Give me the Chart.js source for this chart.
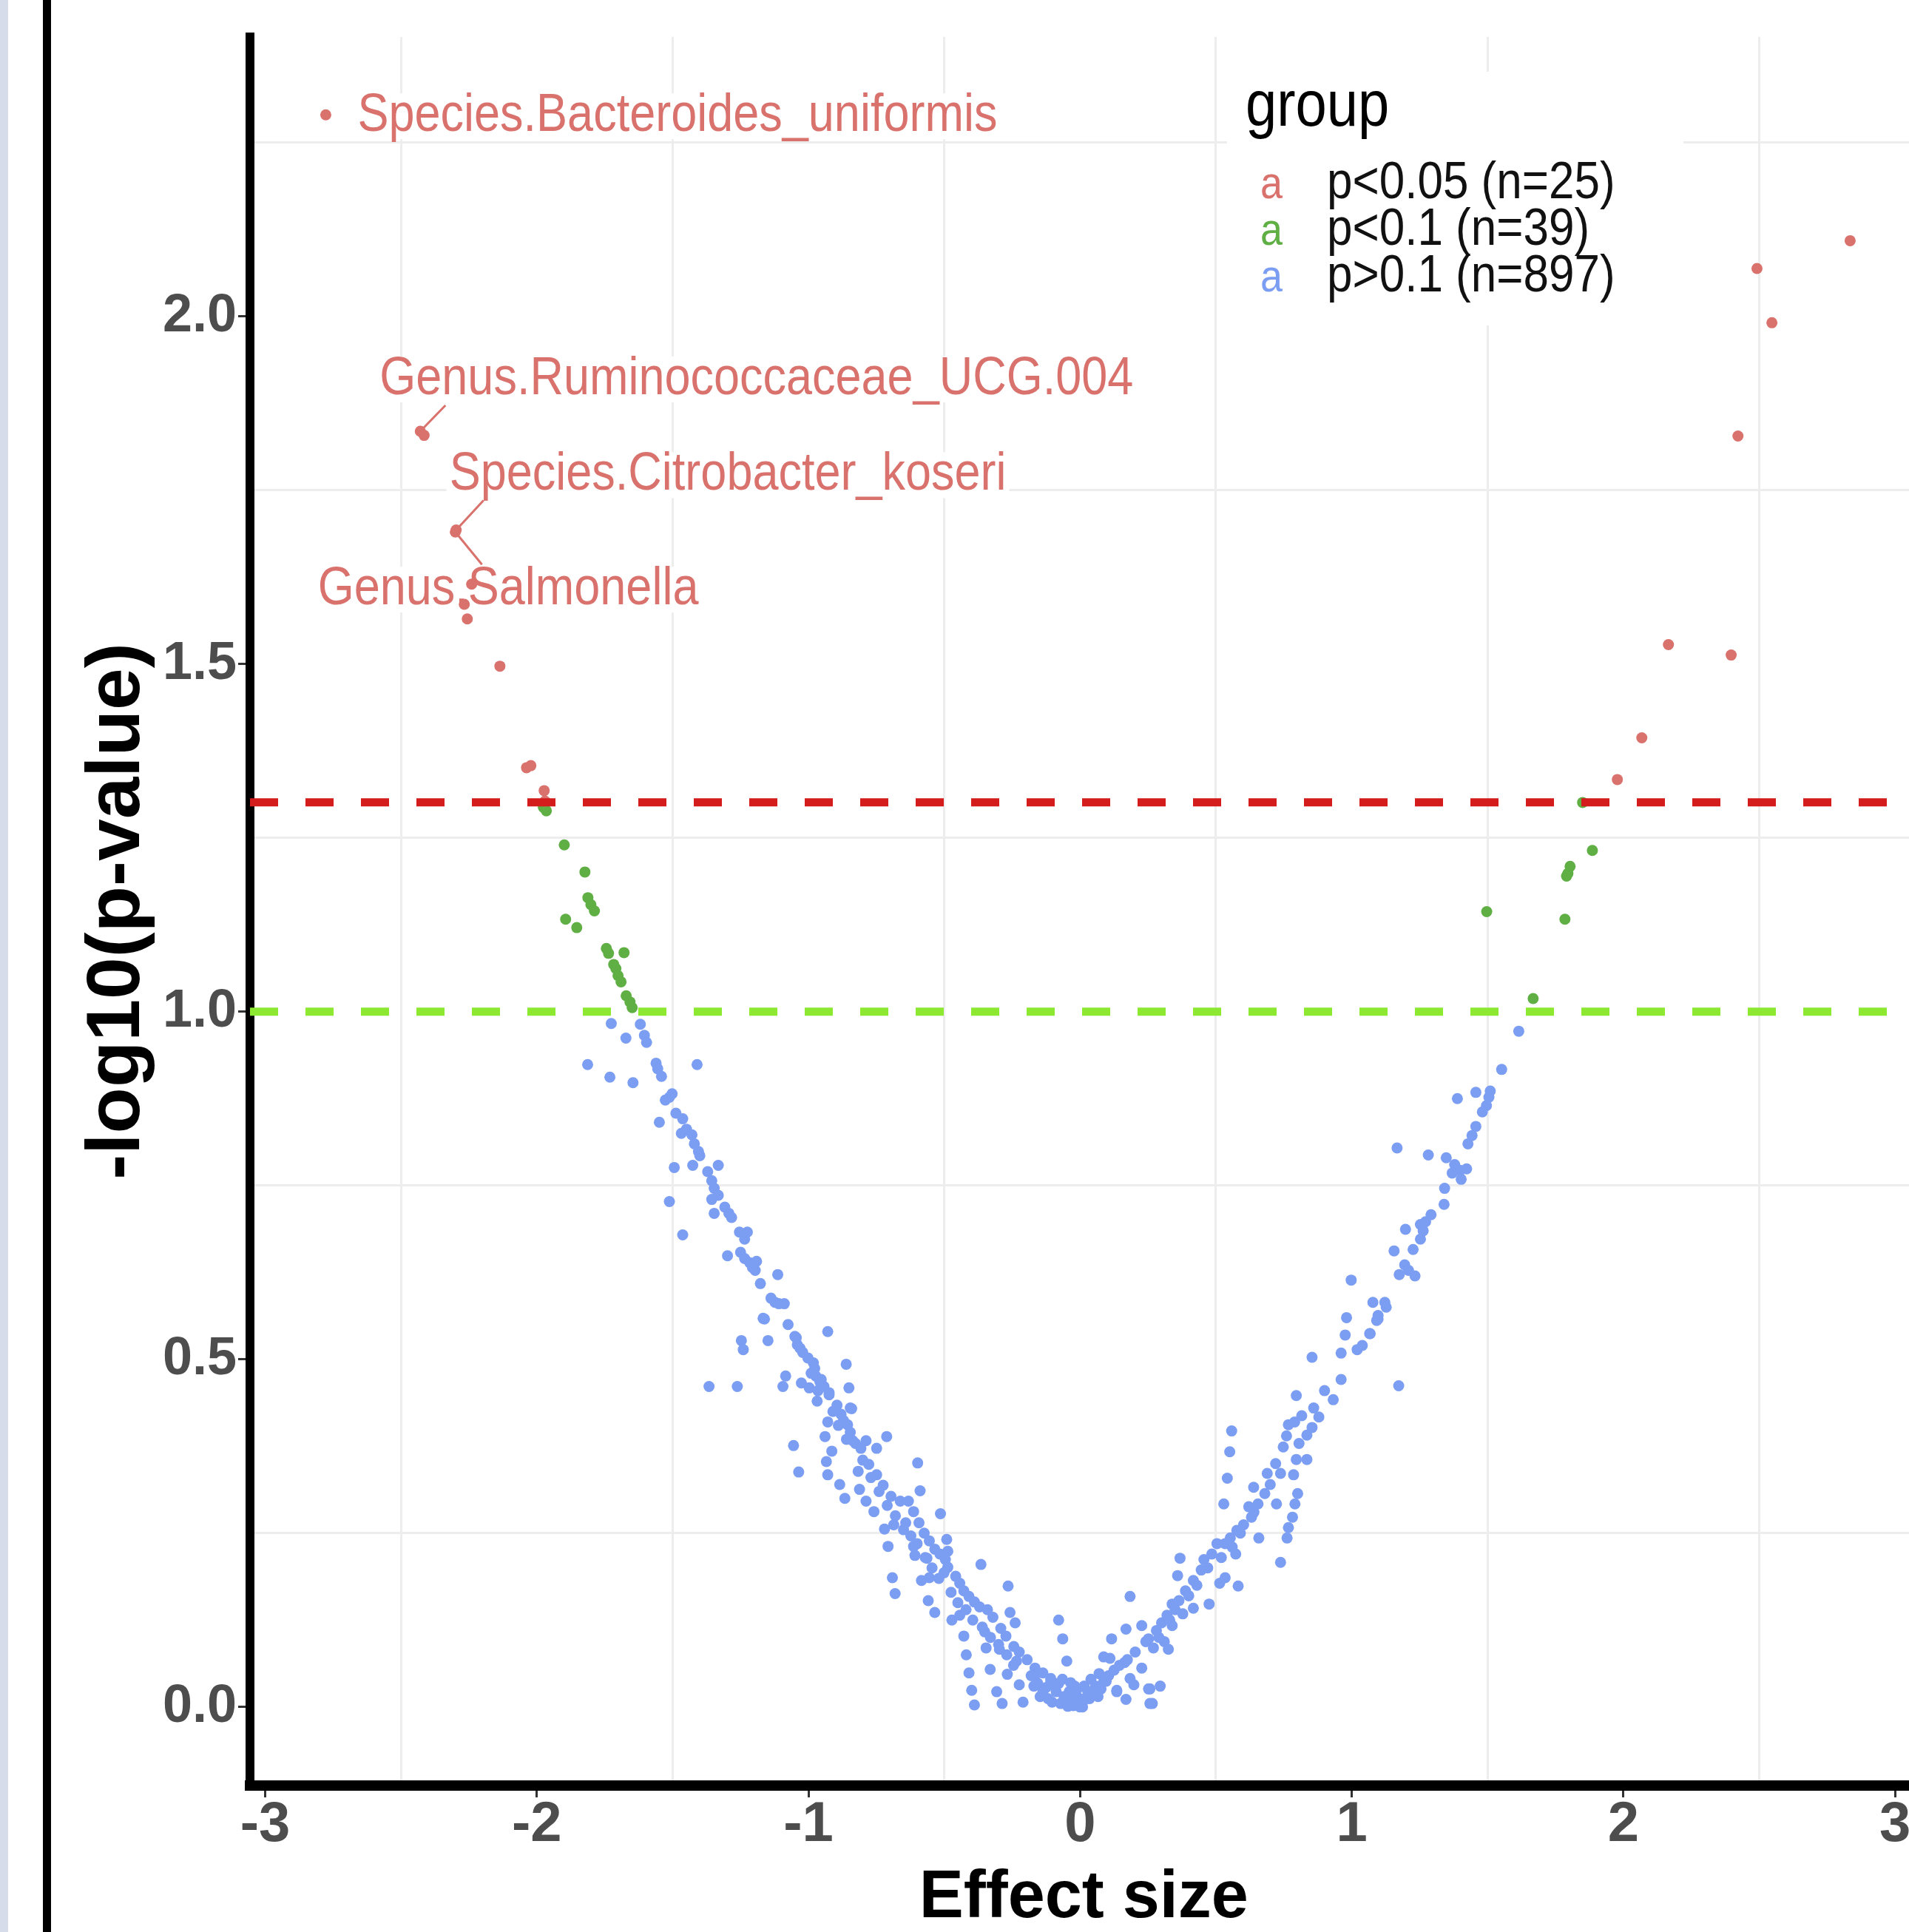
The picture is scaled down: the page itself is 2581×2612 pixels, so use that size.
<!DOCTYPE html>
<html>
<head>
<meta charset="utf-8">
<title>Effect size volcano</title>
<script src="https://cdn.jsdelivr.net/npm/chart.js@4.4.1/dist/chart.umd.min.js"></script>
<style>
  html, body { margin: 0; padding: 0; background: #fff; overflow: hidden; }
  #frame { width: 2581px; height: 2612px; overflow: hidden; position: relative; }
  #wrap { width: 2600px; height: 2612px; position: absolute; left: 0; top: 0; }
</style>
</head>
<body>
<div id="frame"><div id="wrap"><canvas id="volcano"></canvas></div></div>
<script>
// groups as in the legend
const groupLabels = ['p<0.05 (n=25)', 'p<0.1 (n=39)', 'p>0.1 (n=897)'];
const groupColors = ['#d9716c', '#5faf45', '#7b9df2'];

// [effect size, -log10(p)]
const redPoints = [
  [-2.777, 2.290], [-2.429, 1.835], [-2.415, 1.829], [-2.297, 1.693], [-2.300, 1.690],
  [-2.240, 1.615], [-2.267, 1.586], [-2.256, 1.565], [-2.136, 1.497], [-2.038, 1.351],
  [-2.022, 1.354], [-1.973, 1.318], [-1.970, 1.303],
  [2.835, 2.109], [2.492, 2.069], [2.547, 1.991], [2.422, 1.828], [2.166, 1.528],
  [2.397, 1.513], [2.068, 1.394], [1.978, 1.334]
];

const greenPoints = [
  [-1.967, 1.301], [-1.965, 1.289], [-1.976, 1.294], [-1.899, 1.240], [-1.823, 1.201],
  [-1.812, 1.164], [-1.801, 1.154], [-1.788, 1.145], [-1.894, 1.133], [-1.853, 1.121],
  [-1.744, 1.091], [-1.736, 1.084], [-1.679, 1.085], [-1.717, 1.068], [-1.709, 1.062],
  [-1.701, 1.052], [-1.690, 1.043], [-1.671, 1.023], [-1.657, 1.014], [-1.649, 1.006],
  [1.850, 1.301], [1.886, 1.232], [1.804, 1.209], [1.796, 1.199], [1.791, 1.195],
  [1.497, 1.144], [1.785, 1.133], [1.668, 1.019]
];

const bluePoints = [
  // left wing, upper part
  [-1.726, 0.983], [-1.619, 0.982], [-1.672, 0.962], [-1.604, 0.966], [-1.596, 0.956],
  [-1.813, 0.924], [-1.731, 0.906], [-1.646, 0.898], [-1.561, 0.926], [-1.555, 0.918],
  [-1.541, 0.907], [-1.410, 0.924], [-1.502, 0.882], [-1.527, 0.873], [-1.512, 0.877],
  [-1.549, 0.841], [-1.488, 0.854], [-1.463, 0.846], [-1.449, 0.831], [-1.468, 0.825],
  [-1.429, 0.823], [-1.420, 0.810], [-1.405, 0.799], [-1.400, 0.793], [-1.494, 0.776],
  [-1.426, 0.779], [-1.332, 0.779], [-1.371, 0.770], [-1.356, 0.757], [-1.347, 0.746],
  [-1.332, 0.736], [-1.356, 0.730], [-1.347, 0.710], [-1.512, 0.727], [-1.308, 0.719],
  [-1.293, 0.710], [-1.283, 0.704], [-1.463, 0.679], [-1.254, 0.683], [-1.225, 0.683],
  [-1.235, 0.673], [-1.298, 0.649], [-1.250, 0.654], [-1.235, 0.645], [-1.216, 0.639],
  [-1.191, 0.641], [-1.196, 0.628], [-1.206, 0.632], [-1.113, 0.622], [-1.177, 0.609],
  [-1.138, 0.588], [-1.109, 0.580], [-1.089, 0.580], [-1.123, 0.582], [-1.167, 0.559],
  [-1.075, 0.550], [-0.929, 0.540], [-1.247, 0.527], [-1.240, 0.514], [-1.149, 0.527],
  [-1.050, 0.533], [-1.041, 0.521], [-1.021, 0.510], [-1.002, 0.502], [-0.982, 0.495],
  [-0.977, 0.487], [-0.861, 0.493], [-0.973, 0.476], [-0.958, 0.468], [-0.943, 0.461],
  [-0.924, 0.449], [-0.895, 0.434], [-0.846, 0.430], [-1.084, 0.476], [-1.094, 0.461],
  [-1.026, 0.466], [-0.997, 0.459], [-0.851, 0.459], [-1.366, 0.461], [-1.262, 0.461],
  [-0.968, 0.440], [-1.162, 0.558], [-1.045, 0.531], [-1.031, 0.516],
  // left wing, lower part
  [-0.953, 0.471], [-0.924, 0.452], [-0.841, 0.429], [-0.880, 0.421], [-0.871, 0.412],
  [-0.856, 0.406], [-0.846, 0.395], [-0.837, 0.383], [-0.929, 0.410], [-0.939, 0.389],
  [-1.055, 0.376], [-1.036, 0.338], [-0.914, 0.368], [-0.934, 0.353], [-0.929, 0.334],
  [-0.885, 0.320], [-0.866, 0.300], [-0.827, 0.379], [-0.807, 0.372], [-0.788, 0.383],
  [-0.749, 0.372], [-0.817, 0.339], [-0.712, 0.389], [-0.598, 0.351], [-0.589, 0.311],
  [-0.778, 0.349], [-0.749, 0.334], [-0.725, 0.319], [-0.696, 0.303], [-0.662, 0.296],
  [-0.632, 0.296], [-0.613, 0.281], [-0.593, 0.265], [-0.812, 0.313], [-0.788, 0.296],
  [-0.759, 0.281], [-0.514, 0.278], [-0.720, 0.256], [-0.686, 0.262], [-0.642, 0.265],
  [-0.623, 0.246], [-0.613, 0.231], [-0.608, 0.218], [-0.574, 0.250], [-0.555, 0.239],
  [-0.535, 0.227], [-0.516, 0.220], [-0.496, 0.212], [-0.487, 0.201], [-0.491, 0.241],
  [-0.487, 0.224], [-0.501, 0.193], [-0.707, 0.231], [-0.691, 0.186], [-0.681, 0.163],
  [-0.564, 0.214], [-0.555, 0.186], [-0.584, 0.182], [-0.559, 0.153], [-0.535, 0.136],
  [-0.458, 0.188], [-0.443, 0.178], [-0.428, 0.167], [-0.409, 0.159], [-0.389, 0.151],
  [-0.370, 0.144], [-0.341, 0.140], [-0.321, 0.129], [-0.292, 0.113], [-0.273, 0.102],
  [-0.244, 0.087], [-0.224, 0.079], [-0.195, 0.068], [-0.166, 0.056], [-0.137, 0.049],
  [-0.108, 0.041], [-0.079, 0.034], [-0.040, 0.022], [-0.011, 0.015], [-0.365, 0.205],
  [-0.265, 0.174], [-0.472, 0.125], [-0.443, 0.132], [-0.428, 0.102], [-0.419, 0.075],
  [-0.409, 0.049], [-0.399, 0.024], [-0.389, 0.003], [-0.351, 0.108], [-0.346, 0.085],
  [-0.331, 0.054], [-0.307, 0.022], [-0.287, 0.005], [-0.258, 0.136], [-0.239, 0.121],
  [-0.297, 0.083], [-0.268, 0.047], [-0.234, 0.066], [-0.224, 0.032], [-0.210, 0.007],
  [-0.156, 0.034], [-0.147, 0.015], [-0.103, 0.007], [-0.079, 0.125], [-0.064, 0.098],
  [-0.049, 0.066], [-0.045, 0.001], [-0.020, 0.030], [-0.001, 0.000], [-0.137, 0.022],
  [-0.088, 0.022], [-0.059, 0.015], [-0.030, 0.007], [-0.156, 0.049], [-0.108, 0.037],
  // left ridge, second strand
  [-0.990, 0.480], [-0.965, 0.455], [-0.910, 0.425], [-0.890, 0.405], [-0.860, 0.385],
  [-0.800, 0.355], [-0.770, 0.330], [-0.740, 0.310], [-0.710, 0.290], [-0.680, 0.275],
  [-0.650, 0.255], [-0.600, 0.235], [-0.570, 0.215], [-0.545, 0.200], [-0.520, 0.185],
  [-0.475, 0.165], [-0.450, 0.150], [-0.420, 0.140], [-0.395, 0.125], [-0.360, 0.115],
  [-0.330, 0.100], [-0.300, 0.090], [-0.270, 0.075], [-0.245, 0.060],
  // dense bottom around zero
  [-0.180, 0.045], [-0.170, 0.030], [-0.125, 0.028], [-0.118, 0.012], [-0.095, 0.030],
  [-0.072, 0.005], [-0.065, 0.040], [-0.050, 0.012], [-0.035, 0.035], [-0.025, 0.002],
  [-0.012, 0.025], [0.000, 0.008], [0.015, 0.030], [0.035, 0.012], [0.040, 0.040],
  [0.066, 0.015], [0.070, 0.048], [0.105, 0.045], [0.110, 0.070],
  // bottom, right of zero
  [0.028, 0.022], [0.057, 0.030], [0.087, 0.072], [0.116, 0.098], [0.135, 0.024],
  [0.169, 0.011], [0.184, 0.159], [0.169, 0.112], [0.227, 0.117], [0.227, 0.056],
  [0.198, 0.032], [0.257, 0.026], [0.257, 0.005], [0.009, 0.011], [0.048, 0.022],
  [0.087, 0.037], [0.125, 0.053], [0.164, 0.064], [0.203, 0.079], [0.242, 0.094],
  [0.009, 0.000], [0.019, 0.011], [0.077, 0.026], [0.096, 0.037], [0.145, 0.060],
  [0.174, 0.068], [0.184, 0.041], [0.135, 0.022], [0.252, 0.026], [0.295, 0.030],
  [0.266, 0.005],
  // right wing, lower part
  [0.252, 0.098], [0.281, 0.110], [0.300, 0.121], [0.320, 0.132], [0.339, 0.148],
  [0.364, 0.153], [0.388, 0.167], [0.417, 0.182], [0.446, 0.197], [0.456, 0.212],
  [0.485, 0.220], [0.504, 0.235], [0.534, 0.235], [0.553, 0.243], [0.577, 0.254],
  [0.602, 0.262], [0.631, 0.273], [0.621, 0.288], [0.655, 0.292], [0.680, 0.307],
  [0.582, 0.174], [0.475, 0.148], [0.514, 0.178], [0.534, 0.186], [0.368, 0.214],
  [0.359, 0.189], [0.573, 0.220], [0.417, 0.142], [0.378, 0.134], [0.339, 0.117],
  [0.310, 0.094], [0.325, 0.083], [0.558, 0.397], [0.551, 0.367], [0.542, 0.329],
  [0.529, 0.292], [0.689, 0.336], [0.738, 0.336], [0.639, 0.316], [0.723, 0.292],
  [0.658, 0.243], [0.801, 0.307], [0.791, 0.292], [0.782, 0.273], [0.767, 0.258],
  [0.762, 0.243], [0.738, 0.208], [0.796, 0.448], [0.816, 0.419], [0.767, 0.406],
  [0.748, 0.374], [0.879, 0.417], [0.854, 0.402], [0.835, 0.391], [0.806, 0.379],
  [0.796, 0.356], [0.786, 0.334], [0.835, 0.356], [0.932, 0.442], [0.961, 0.471],
  [0.961, 0.509], [0.976, 0.535], [0.981, 0.560], [0.854, 0.503], [1.173, 0.462],
  [1.020, 0.514], [1.039, 0.520], [1.068, 0.537], [1.097, 0.558],
  // right ridge, second strand
  [0.270, 0.085], [0.290, 0.100], [0.330, 0.125], [0.350, 0.140], [0.400, 0.160],
  [0.430, 0.175], [0.470, 0.200], [0.520, 0.215], [0.560, 0.230], [0.590, 0.250],
  [0.640, 0.280], [0.700, 0.320], [0.720, 0.350], [0.760, 0.390], [0.790, 0.410],
  [0.860, 0.430], [0.900, 0.455],
  // right wing, upper part
  [0.998, 0.614], [1.078, 0.582], [1.122, 0.582], [1.127, 0.575], [1.097, 0.563],
  [1.092, 0.556], [1.066, 0.537], [1.195, 0.636], [1.175, 0.622], [1.233, 0.620],
  [1.209, 0.628], [1.292, 0.708], [1.272, 0.698], [1.253, 0.694], [1.263, 0.685],
  [1.253, 0.673], [1.198, 0.687], [1.226, 0.658], [1.156, 0.656], [1.342, 0.746],
  [1.340, 0.723], [1.167, 0.804], [1.282, 0.794], [1.348, 0.790], [1.379, 0.780],
  [1.399, 0.772], [1.423, 0.774], [1.370, 0.768], [1.403, 0.759], [1.457, 0.835],
  [1.443, 0.822], [1.428, 0.810], [1.389, 0.875], [1.457, 0.884], [1.510, 0.886],
  [1.505, 0.877], [1.496, 0.865], [1.481, 0.856], [1.552, 0.917], [1.615, 0.972]
];

// dashed cut-offs: -log10(0.05) and -log10(0.1)
const cutoffs = [1.30103, 1.0];
const cutoffColors = ['#d41c1c', '#8ce830'];

// axis ticks (minor positions carry only the grid)
const xTicks = [-3, -2.5, -2, -1.5, -1, -0.5, 0, 0.5, 1, 1.5, 2, 2.5, 3];
const yTicks = [0, 0.25, 0.5, 0.75, 1, 1.25, 1.5, 1.75, 2, 2.25];
const xMin = -3.056, xMax = 3.083;
const yMin = -0.113, yMax = 2.402;

// labelled features: index in redPoints, text offset and leader end (px)
const featureLabels = [
  { point: 0, text: 'Species.Bacteroides_uniformis', dx: 43, dy: 2 },
  { point: 1, text: 'Genus.Ruminococcaceae_UCG.004', dx: -55, dy: -70, lx: 34, ly: -35 },
  { point: 3, text: 'Species.Citrobacter_koseri', dx: -9, dy: -74, lx: 37, ly: -40 },
  { point: 4, text: 'Genus.Salmonella', dx: -186, dy: 78, lx: 36, ly: 44 }
];

const FONT = '"Liberation Sans", Arial, Helvetica, sans-serif';
const STRETCH = 1.14; // the original picture is a little taller than wide

function isWhole(v, step) {
  return Math.abs(v / step - Math.round(v / step)) < 1e-9;
}

function toXY(points) {
  return points.map(p => ({ x: p[0], y: p[1] }));
}

function tallText(ctx, text, x, y) {
  ctx.save();
  ctx.translate(x, y);
  ctx.scale(1, STRETCH);
  ctx.fillText(text, 0, 0);
  ctx.restore();
}

// white page, plus the window edge seen on the left of the screenshot
const backdrop = {
  id: 'backdrop',
  beforeDraw(chart) {
    const { ctx, width, height } = chart;
    ctx.save();
    ctx.fillStyle = '#ffffff';
    ctx.fillRect(0, 0, width, height);
    ctx.fillStyle = '#d6dcea';
    ctx.fillRect(0, 0, 11, height);
    ctx.fillStyle = '#000000';
    ctx.fillRect(58, 0, 11, height);
    ctx.restore();
  }
};

// ggrepel-like labels with white boxes and leader segments
const repelLabels = {
  id: 'repelLabels',
  beforeDatasetsDraw(chart) {
    const { ctx, scales: { x, y } } = chart;
    ctx.save();
    ctx.font = '63px ' + FONT;
    ctx.textBaseline = 'middle';
    const placed = featureLabels.map(l => {
      const p = redPoints[l.point];
      const px = x.getPixelForValue(p[0]);
      const py = y.getPixelForValue(p[1]);
      return { l, px, py, tx: px + l.dx, ty: py + l.dy, w: ctx.measureText(l.text).width };
    });
    ctx.fillStyle = '#ffffff';
    placed.forEach(o => ctx.fillRect(o.tx - 4, o.ty - 31, o.w + 8, 62));
    ctx.strokeStyle = groupColors[0];
    ctx.lineWidth = 3;
    placed.forEach(o => {
      if (o.l.lx === undefined) return;
      ctx.beginPath();
      ctx.moveTo(o.px, o.py);
      ctx.lineTo(o.px + o.l.lx, o.py + o.l.ly);
      ctx.stroke();
    });
    ctx.fillStyle = groupColors[0];
    placed.forEach(o => tallText(ctx, o.l.text, o.tx, o.ty));
    ctx.restore();
  }
};

// legend in the top right corner, with the "a" key glyphs of ggplot text layers
const groupLegend = {
  id: 'groupLegend',
  beforeDatasetsDraw(chart) {
    const { ctx } = chart;
    ctx.save();
    ctx.fillStyle = '#ffffff';
    ctx.fillRect(1659, 97, 617, 343);
    ctx.textBaseline = 'alphabetic';
    ctx.fillStyle = '#000000';
    ctx.font = '76px ' + FONT;
    tallText(ctx, 'group', 1684, 170);
    groupLabels.forEach((label, i) => {
      const base = 268 + i * 63;
      ctx.font = '54px ' + FONT;
      ctx.textAlign = 'center';
      ctx.fillStyle = groupColors[i];
      tallText(ctx, 'a', 1719, base);
      ctx.font = '62px ' + FONT;
      ctx.textAlign = 'left';
      ctx.fillStyle = '#111111';
      tallText(ctx, label, 1794, base);
    });
    ctx.restore();
  }
};

const pointStyle = color => ({
  type: 'scatter',
  backgroundColor: color,
  borderWidth: 0,
  pointRadius: 7.5,
  pointHoverRadius: 7.5
});

const cutoffSets = cutoffs.map((c, i) => ({
  type: 'line',
  data: [{ x: xMin, y: c }, { x: xMax, y: c }],
  borderColor: cutoffColors[i],
  borderWidth: 11,
  borderDash: [38, 37],
  pointRadius: 0,
  fill: false,
  tension: 0
}));

new Chart(document.getElementById('volcano').getContext('2d'), {
  type: 'scatter',
  data: {
    datasets: [
      ...cutoffSets,
      { ...pointStyle(groupColors[0]), label: groupLabels[0], data: toXY(redPoints) },
      { ...pointStyle(groupColors[1]), label: groupLabels[1], data: toXY(greenPoints) },
      { ...pointStyle(groupColors[2]), label: groupLabels[2], data: toXY(bluePoints) }
    ]
  },
  options: {
    responsive: true,
    maintainAspectRatio: false,
    animation: false,
    events: [],
    layout: { padding: { top: 50, left: 0, right: 0, bottom: 0 } },
    plugins: {
      legend: { display: false },
      tooltip: { enabled: false }
    },
    scales: {
      x: {
        type: 'linear',
        min: xMin,
        max: xMax,
        afterBuildTicks: axis => { axis.ticks = xTicks.map(v => ({ value: v })); },
        afterFit: axis => { axis.height = 198; axis.paddingLeft = 0; axis.paddingRight = 0; },
        ticks: {
          autoSkip: false,
          maxRotation: 0,
          padding: 0,
          color: '#4d4d4d',
          font: { family: FONT, size: 76, weight: 'bold', lineHeight: 1 },
          callback: v => isWhole(v, 1) ? String(v) : ''
        },
        grid: {
          color: c => isWhole(c.tick.value, 1) ? 'rgba(0,0,0,0)' : '#ededed',
          lineWidth: 3,
          drawTicks: true,
          tickLength: 16,
          tickWidth: 3,
          tickColor: c => isWhole(c.tick.value, 1) ? '#333333' : 'rgba(0,0,0,0)'
        },
        border: { display: true, color: '#000000', width: 14 },
        title: {
          display: true,
          text: 'Effect size',
          color: '#000000',
          font: { family: FONT, size: 90, weight: 'bold', lineHeight: 1 },
          padding: { top: 0, bottom: 0 }
        }
      },
      y: {
        type: 'linear',
        min: yMin,
        max: yMax,
        afterBuildTicks: axis => { axis.ticks = yTicks.map(v => ({ value: v })); },
        afterFit: axis => { axis.width = 338; axis.paddingTop = 0; axis.paddingBottom = 0; },
        ticks: {
          padding: 2,
          color: '#4d4d4d',
          font: { family: FONT, size: 72, weight: 'bold', lineHeight: 1 },
          callback: v => isWhole(v, 0.5) ? v.toFixed(1) : ''
        },
        grid: {
          color: c => isWhole(c.tick.value, 0.5) ? 'rgba(0,0,0,0)' : '#ededed',
          lineWidth: 3,
          drawTicks: true,
          tickLength: 16,
          tickWidth: 3,
          tickColor: c => isWhole(c.tick.value, 0.5) ? '#333333' : 'rgba(0,0,0,0)'
        },
        border: { display: true, color: '#000000', width: 12 },
        title: {
          display: true,
          text: '-log10(p-value)',
          color: '#000000',
          font: { family: FONT, size: 102, weight: 'bold', lineHeight: 1 },
          padding: { top: 109, bottom: 0 }
        }
      }
    }
  },
  plugins: [backdrop, repelLabels, groupLegend]
});
</script>
</body>
</html>
